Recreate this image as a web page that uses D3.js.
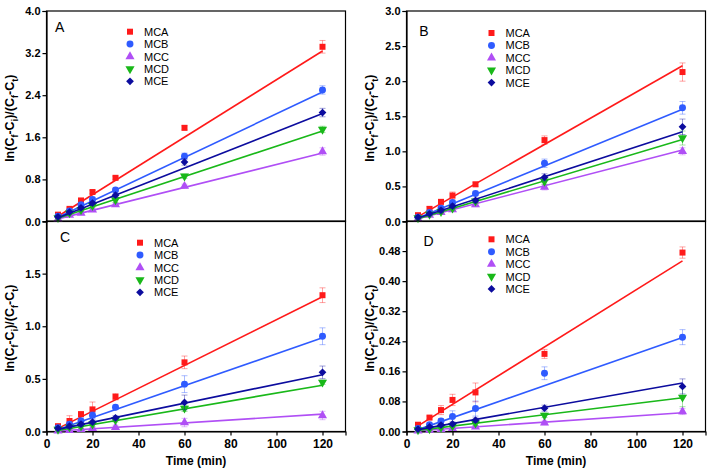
<!DOCTYPE html>
<html>
<head>
<meta charset="utf-8">
<script src="https://cdn.jsdelivr.net/npm/d3@7"></script>
<style>
  body { margin: 0; background: #fff; }
  svg { display: block; font-family: "Liberation Sans", Arial, sans-serif; }
  .tick text { font-weight: bold; font-size: 11px; fill: #000; }
  .domain, .tick line { stroke: #000; stroke-width: 1.2; }
</style>
</head>
<body>
<svg id="canvas"></svg>
<script>
// time points (min)
const times = [5, 10, 15, 20, 30, 60, 120];
const seriesNames = ["MCA", "MCB", "MCC", "MCD", "MCE"];
const seriesColors = ["#ff1a1a", "#2f5bff", "#b04ff5", "#19b819", "#0c0c9e"];
const xTicks = [0, 20, 40, 60, 80, 100, 120];

// panel A
const aValues = [
  [0.13, 0.24, 0.40, 0.56, 0.83, 1.78, 3.32],
  [0.10, 0.20, 0.32, 0.42, 0.60, 1.24, 2.50],
  [0.05, 0.12, 0.16, 0.22, 0.32, 0.67, 1.33],
  [0.07, 0.16, 0.22, 0.30, 0.41, 0.86, 1.75],
  [0.09, 0.18, 0.26, 0.35, 0.50, 1.13, 2.07]
];
const aErrors = [
  [0.02, 0.02, 0.03, 0.03, 0.03, 0.04, 0.12],
  [0.02, 0.02, 0.03, 0.04, 0.03, 0.06, 0.08],
  [0.02, 0.02, 0.03, 0.03, 0.03, 0.04, 0.07],
  [0.02, 0.02, 0.03, 0.03, 0.05, 0.04, 0.06],
  [0.02, 0.02, 0.03, 0.03, 0.04, 0.06, 0.08]
];
const aFits = [[0.10, 3.24], [0.08, 2.46], [0.05, 1.30], [0.06, 1.72], [0.07, 2.05]];
const aTicks = [0, 0.8, 1.6, 2.4, 3.2, 4.0];

// panel B
const bValues = [
  [0.09, 0.18, 0.28, 0.37, 0.53, 1.16, 2.13],
  [0.06, 0.13, 0.19, 0.27, 0.40, 0.83, 1.62],
  [0.04, 0.09, 0.13, 0.17, 0.24, 0.49, 1.00],
  [0.05, 0.10, 0.14, 0.19, 0.29, 0.57, 1.19],
  [0.06, 0.11, 0.16, 0.22, 0.30, 0.63, 1.35]
];
const bErrors = [
  [0.02, 0.03, 0.03, 0.05, 0.03, 0.06, 0.13],
  [0.02, 0.02, 0.03, 0.03, 0.03, 0.06, 0.09],
  [0.02, 0.02, 0.02, 0.03, 0.03, 0.04, 0.05],
  [0.02, 0.02, 0.02, 0.03, 0.03, 0.04, 0.10],
  [0.02, 0.02, 0.03, 0.03, 0.03, 0.05, 0.11]
];
const bFits = [[0.07, 2.22], [0.05, 1.60], [0.04, 1.02], [0.04, 1.17], [0.05, 1.28]];
const bTicks = [0, 0.5, 1.0, 1.5, 2.0, 2.5, 3.0];

// panel C
const cValues = [
  [0.05, 0.10, 0.165, 0.21, 0.33, 0.657, 1.295],
  [0.035, 0.07, 0.10, 0.155, 0.23, 0.45, 0.905],
  [0.005, 0.01, 0.02, 0.03, 0.04, 0.085, 0.152],
  [0.02, 0.04, 0.05, 0.07, 0.11, 0.22, 0.467],
  [0.03, 0.05, 0.07, 0.09, 0.13, 0.276, 0.562]
];
const cErrors = [
  [0.02, 0.05, 0.02, 0.07, 0.03, 0.06, 0.07],
  [0.02, 0.02, 0.03, 0.03, 0.02, 0.08, 0.08],
  [0.01, 0.01, 0.01, 0.01, 0.02, 0.04, 0.04],
  [0.01, 0.01, 0.02, 0.02, 0.02, 0.03, 0.02],
  [0.01, 0.02, 0.02, 0.02, 0.02, 0.07, 0.06]
];
const cFits = [[0.03, 1.28], [0.02, 0.89], [0.005, 0.165], [0.01, 0.44], [0.02, 0.54]];
const cTicks = [0, 0.5, 1.0, 1.5];

// panel D
const dValues = [
  [0.018, 0.037, 0.057, 0.084, 0.104, 0.2065, 0.476],
  [0.008, 0.018, 0.028, 0.040, 0.061, 0.155, 0.251],
  [0.002, 0.004, 0.006, 0.008, 0.012, 0.023, 0.053],
  [0.004, 0.007, 0.011, 0.015, 0.022, 0.043, 0.091],
  [0.006, 0.012, 0.017, 0.020, 0.030, 0.062, 0.120]
];
const dErrors = [
  [0.005, 0.004, 0.012, 0.015, 0.025, 0.012, 0.015],
  [0.003, 0.004, 0.006, 0.015, 0.020, 0.017, 0.020],
  [0.002, 0.002, 0.003, 0.003, 0.004, 0.005, 0.008],
  [0.002, 0.003, 0.004, 0.004, 0.006, 0.006, 0.025],
  [0.002, 0.003, 0.004, 0.005, 0.006, 0.008, 0.020]
];
const dFits = [[0.015, 0.454], [0.005, 0.25], [0.002, 0.05], [0.003, 0.09], [0.005, 0.129]];
const dTicks = [0, 0.08, 0.16, 0.24, 0.32, 0.40, 0.48];

let width = 709,
  height = 470;

let canvas = d3.select("#canvas").attr("width", width).attr("height", height);

let plotW = 299,
  plotH = 210.5;

let panels = [
  { name: "A", values: aValues, errors: aErrors, fits: aFits, ticks: aTicks, yMax: 4.0, fmt: ".1f",
    x: 46.5, y: 11, xAxis: false, letter: [8.5, 20.7], legend: [83.5, 20.7] },
  { name: "B", values: bValues, errors: bErrors, fits: bFits, ticks: bTicks, yMax: 3.0, fmt: ".1f",
    x: 406.5, y: 11, xAxis: false, letter: [12.8, 24.7], legend: [85, 22] },
  { name: "C", values: cValues, errors: cErrors, fits: cFits, ticks: cTicks, yMax: 2.0, fmt: ".1f",
    x: 46.5, y: 221, xAxis: true, letter: [13.5, 20.7], legend: [93.5, 21.7] },
  { name: "D", values: dValues, errors: dErrors, fits: dFits, ticks: dTicks, yMax: 0.56, fmt: ".2f",
    x: 406.5, y: 221, xAxis: true, letter: [17, 25], legend: [85, 18.3] }
];

// square, circle, triangle up, triangle down, diamond (square turned 45deg)
let symbolFor = (i) => {
  let types = [d3.symbolSquare, d3.symbolCircle, d3.symbolTriangle, d3.symbolTriangle, d3.symbolSquare];
  let sizes = [36, 38, 36, 36, 30];
  return d3.symbol().type(types[i]).size(sizes[i])();
};
let symbolRotate = (i) => (i === 3 ? " rotate(180)" : i === 4 ? " rotate(45)" : "");

let drawPanel = (p) => {
  let g = canvas.append("g").attr("transform", "translate(" + p.x + "," + p.y + ")");

  let xScale = d3.scaleLinear().domain([0, 130]).range([0, plotW]);
  let yScale = d3.scaleLinear().domain([0, p.yMax]).range([plotH, 0]);

  // frame
  g.append("rect")
    .attr("width", plotW)
    .attr("height", plotH)
    .attr("fill", "none")
    .attr("stroke", "#000")
    .attr("stroke-width", 1.2);

  // y axis
  let yAxis = d3.axisLeft(yScale).tickValues(p.ticks).tickFormat(d3.format(p.fmt)).tickSize(4).tickPadding(2);
  g.append("g").call(yAxis);

  // x axis on the bottom panels only
  if (p.xAxis) {
    let xAxis = d3.axisBottom(xScale).tickValues(xTicks).tickFormat(d3.format("d")).tickSize(4).tickPadding(4);
    let xg = g.append("g").attr("transform", "translate(0," + plotH + ")").call(xAxis);
    xg.selectAll(".tick text").style("font-size", "12px");
    g.append("text")
      .attr("x", plotW / 2)
      .attr("y", plotH + 33)
      .attr("text-anchor", "middle")
      .style("font-weight", "bold")
      .style("font-size", "12px")
      .text("Time (min)");
  }

  // y label with subscripts
  let label = g.append("text")
    .attr("transform", "translate(" + -33 + "," + (plotH / 2 + 2) + ") rotate(-90)")
    .attr("text-anchor", "middle")
    .style("font-weight", "bold")
    .style("font-size", "12.5px");
  let parts = [["ln(C", false], ["f", true], ["-C", false], ["i", true], [")/(C", false], ["f", true], ["-C", false], ["t", true], [")", false]];
  parts.forEach((part, k) => {
    let t = label.append("tspan").text(part[0]);
    if (part[1]) t.attr("dy", 4).style("font-size", "9px");
    else t.attr("dy", k === 0 ? 0 : -4);
  });

  // panel letter
  g.append("text")
    .attr("x", p.letter[0])
    .attr("y", p.letter[1])
    .style("font-size", "14px")
    .text(p.name);

  p.values.forEach((vals, i) => {
    let color = seriesColors[i];

    // error bars
    vals.forEach((v, j) => {
      let e = p.errors[i][j];
      let cx = xScale(times[j]);
      let eg = g.append("g").attr("stroke", color).attr("stroke-opacity", 0.4).attr("stroke-width", 1);
      eg.append("line").attr("x1", cx).attr("x2", cx).attr("y1", yScale(v - e)).attr("y2", yScale(v + e));
      eg.append("line").attr("x1", cx - 3).attr("x2", cx + 3).attr("y1", yScale(v - e)).attr("y2", yScale(v - e));
      eg.append("line").attr("x1", cx - 3).attr("x2", cx + 3).attr("y1", yScale(v + e)).attr("y2", yScale(v + e));
    });

    // fitted line
    g.append("line")
      .attr("x1", xScale(times[0]))
      .attr("x2", xScale(times[times.length - 1]))
      .attr("y1", yScale(p.fits[i][0]))
      .attr("y2", yScale(p.fits[i][1]))
      .attr("stroke", color)
      .attr("stroke-width", 1.6);

    // markers
    g.selectAll(".pt" + i)
      .data(vals)
      .enter()
      .append("path")
      .attr("class", "pt" + i)
      .attr("d", symbolFor(i))
      .attr("fill", color)
      .attr("transform", (v, j) => "translate(" + xScale(times[j]) + "," + yScale(v) + ")" + symbolRotate(i));

    // legend
    let ly = p.legend[1] + i * 12.4;
    g.append("path")
      .attr("d", symbolFor(i))
      .attr("fill", color)
      .attr("transform", "translate(" + p.legend[0] + "," + ly + ")" + symbolRotate(i));
    g.append("text")
      .attr("x", p.legend[0] + 14)
      .attr("y", ly + 4)
      .style("font-size", "11px")
      .text(seriesNames[i]);
  });
};

panels.forEach(drawPanel);
</script>
</body>
</html>
